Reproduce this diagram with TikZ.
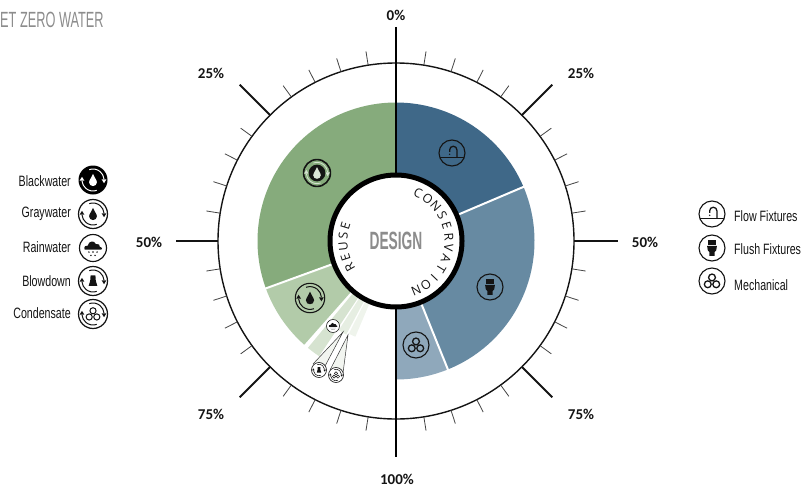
\documentclass[tikz,border=0pt]{standalone}
\usepackage{fontspec}
\setmainfont{Liberation Sans}
\newfontfamily\narrowf[FakeStretch=0.71]{Liberation Sans}
\newfontfamily\titlef[FakeStretch=0.58]{Liberation Sans}
\newfontfamily\boldnarrowf[FakeStretch=0.55]{Liberation Sans Bold}
\newfontfamily\pctf{Carlito Bold}
\newfontfamily\arcf{Open Sans}
\definecolor{bluedark}{HTML}{3F6888}
\definecolor{bluemid}{HTML}{678AA2}
\definecolor{bluelight}{HTML}{8FA8BB}
\definecolor{greendark}{HTML}{86AB7C}
\definecolor{greenlight}{HTML}{B2CBA9}
\definecolor{greenrain}{HTML}{D6E3D0}
\definecolor{greenblow}{HTML}{E6EEE2}
\definecolor{greencond}{HTML}{EFF4EC}
\definecolor{funnel}{HTML}{F2F5F0}
\definecolor{ink}{HTML}{141414}
\definecolor{titlegray}{HTML}{8C8C8C}
\tikzset{
  legendtext/.style={font=\narrowf\fontsize{15}{16}\selectfont, text=ink, inner sep=0pt},
  pct/.style={font=\pctf\fontsize{15}{16}\selectfont, text=ink, inner sep=0pt},
  arcletter/.style={font=\arcf\fontsize{12.5}{13}\selectfont, text=ink, inner sep=0pt},
  majortick/.style={line width=1.8pt, draw=ink},
  minortick/.style={line width=0.8pt, draw=ink!80},
  divider/.style={draw=white, line width=2pt},
  leader/.style={draw=ink!85, line width=0.5pt},
}
% Icon parts, drawn in unit coordinates (icon radius = 1)
\newcommand{\unitdrop}{(0,-.42) .. controls (.06,-.2) and (.27,-.02) .. (.27,.16) .. controls (.27,.5) and (-.27,.5) .. (-.27,.16) .. controls (-.27,-.02) and (-.06,-.2) .. cycle}
\newcommand{\unittower}{(-.17,-.38) -- (.17,-.38) .. controls (.17,-.1) and (.2,.12) .. (.3,.34) -- (-.3,.34) .. controls (-.2,.12) and (-.17,-.1) .. cycle}
\newcommand{\unitgears}[2]{% scale, width
  \begin{scope}[scale=#1]
  \draw[draw=ink,line width=#2] (0,-.26) circle[radius=.25];
  \draw[draw=ink,line width=#2] (-.31,.24) circle[radius=.25];
  \draw[draw=ink,line width=#2] (.31,.24) circle[radius=.25];
  \end{scope}}
% two arrow arcs of the recycling ring: colour, width
\newcommand{\unitarrows}[2]{%
  \draw[draw=#1,line width=#2] (-110:.76) arc[start angle=-110,end angle=-5,radius=.76];
  \draw[draw=#1,line width=#2] (70:.76) arc[start angle=70,end angle=175,radius=.76];
  \fill[#1] (.6,-.04) -- (.92,-.04) -- (.76,.22) -- cycle;
  \fill[#1] (-.6,.04) -- (-.92,.04) -- (-.76,-.22) -- cycle;}
\newcommand{\iconring}[4]{% x,y,r,glyph
  \begin{scope}[shift={(#1,#2)},scale=#3]
  \draw[draw=ink,fill=white,line width=#3*.085pt] (0,0) circle[radius=1];
  \unitarrows{ink}{#3*.07pt}
  #4
  \end{scope}}
\newcommand{\iconrain}[3]{%
  \begin{scope}[shift={(#1,#2)},scale=#3]
  \draw[draw=ink,fill=white,line width=#3*.085pt] (0,0) circle[radius=1];
  \fill[ink] (-.62,.12) .. controls (-.72,-.12) and (-.5,-.22) .. (-.38,-.18)
     .. controls (-.34,-.52) and (.1,-.6) .. (.2,-.3)
     .. controls (.4,-.36) and (.56,-.2) .. (.5,-.1)
     .. controls (.7,-.1) and (.72,.1) .. (.62,.12) -- cycle;
  \foreach \dx/\dy in {-.3/.3,0/.3,.3/.3,-.15/.55,.15/.55}
    \fill[ink] (\dx,\dy) circle[radius=.06];
  \end{scope}}
\newcommand{\iconflow}[3]{%
  \begin{scope}[shift={(#1,#2)},scale=#3]
  \draw[draw=ink,line width=#3*.085pt] (0,0) circle[radius=1];
  \draw[draw=ink,line width=#3*.085pt] (-.94,.36) -- (.94,.36);
  \draw[draw=ink,line width=#3*.1pt] (.38,.36) -- (.38,-.24) arc[start angle=0,end angle=-180,radius=.28] -- (-.18,-.08);
  \fill[ink] (-.18,.1) circle[radius=.06];
  \end{scope}}
\newcommand{\iconflush}[3]{%
  \begin{scope}[shift={(#1,#2)},scale=#3]
  \draw[draw=ink,line width=#3*.085pt] (0,0) circle[radius=1];
  \fill[ink] (-.34,-.62) rectangle (.34,-.24);
  \fill[ink] (-.38,-.17) -- (.38,-.17) -- (.32,.2) -- (.2,.3) -- (.2,.6) -- (-.2,.6) -- (-.2,.3) -- (-.32,.2) -- cycle;
  \end{scope}}
\newcommand{\iconmech}[3]{%
  \begin{scope}[shift={(#1,#2)},scale=#3]
  \draw[draw=ink,line width=#3*.085pt] (0,0) circle[radius=1];
  \unitgears{1.05}{#3*.1pt}
  \end{scope}}
\newcommand{\sectorfill}[5]{% colour, a1, a2, r1, r2 (angles clockwise from top)
  \fill[#1] ({396+#4*sin(#2)},{241-#4*cos(#2)}) -- ({396+#5*sin(#2)},{241-#5*cos(#2)})
     arc[start angle={#2-90},end angle={#3-90},radius=#5]
     -- ({396+#4*sin(#3)},{241-#4*cos(#3)}) -- cycle;}
\begin{document}
\begin{tikzpicture}[x=1pt,y=-1pt]
\useasboundingbox (0,0) rectangle (802,487);
\coordinate (c) at (396,241);
\sectorfill{bluedark}{0}{67}{60}{138.5}
\sectorfill{bluemid}{67}{158}{60}{138.5}
\sectorfill{bluelight}{158}{180}{60}{138.5}
\sectorfill{greendark}{250}{360}{60}{138.5}
\sectorfill{greenlight}{221.5}{250}{60}{138.5}
\sectorfill{greenrain}{213.7}{219.5}{60}{138.5}
\sectorfill{greenblow}{208}{212.7}{60}{106}
\sectorfill{greencond}{203}{207}{60}{104}
% funnels under the leaders
\fill[funnel] (343,332) -- (313,364) -- (324,368) -- cycle;
\fill[funnel] (348,335) -- (330,370) -- (343,373) -- cycle;
% dividers
\draw[divider] ({396+60*sin(67)},{241-60*cos(67)}) -- ({396+139.5*sin(67)},{241-139.5*cos(67)});
\draw[divider] ({396+60*sin(158)},{241-60*cos(158)}) -- ({396+139.5*sin(158)},{241-139.5*cos(158)});
\draw[divider] ({396+60*sin(250)},{241-60*cos(250)}) -- ({396+139.5*sin(250)},{241-139.5*cos(250)});
% outer ring
\draw[draw=ink,line width=1.4pt] (c) circle[radius=178];
% ticks
\foreach \a in {45,135,225,315}
  \draw[majortick] ({396+178*sin(\a)},{241-178*cos(\a)}) -- ({396+221*sin(\a)},{241-221*cos(\a)});
\draw[majortick] (176,241) -- (218,241);
\draw[majortick] (574,241) -- (618,241);
\foreach \q in {0,90,180,270}
  \foreach \s in {9,18,27,36,54,63,72,81}
    \draw[minortick] ({396+178*sin(\q+\s)},{241-178*cos(\q+\s)}) -- ({396+192*sin(\q+\s)},{241-192*cos(\q+\s)});
% vertical axis
\draw[draw=black,line width=2.4pt] (396,27) -- (396,457);
% centre
\draw[draw=black,fill=white,line width=5pt] (c) circle[radius=66];
\node[font=\boldnarrowf\fontsize{25}{26}\selectfont,text=titlegray,inner sep=0pt] (design) at (396,241) {DESIGN};
% arc letters
\foreach \ch [count=\i from 0] in {C,O,N,S,E,R,V,A,T,I,O,N} {
  \pgfmathsetmacro{\ang}{24.6+12.1*\i}
  \node[arcletter,rotate={-\ang}] (cons\i) at ({396+53*sin(\ang)},{241-53*cos(\ang)}) {\ch};
}
\foreach \ch [count=\i from 0] in {R,E,U,S,E} {
  \pgfmathsetmacro{\ang}{240.5+11.6*\i}
  \node[arcletter,rotate={-\ang}] (reuse\i) at ({396+53*sin(\ang)},{241-53*cos(\ang)}) {\ch};
}
% percent labels
\node[pct] (p0) at (396,15) {0\%};
\node[pct] (p25l) at (211,73) {25\%};
\node[pct] (p25r) at (581,73) {25\%};
\node[pct] (p50l) at (149,242) {50\%};
\node[pct] (p50r) at (645,242) {50\%};
\node[pct] (p75l) at (211,414) {75\%};
\node[pct] (p75r) at (581,414) {75\%};
\node[pct] (p100) at (397,479) {100\%};
% title
\node[font=\titlef\fontsize{22}{23}\selectfont,text=titlegray,anchor=west,inner sep=0pt] (title) at (0,20) {ET ZERO WATER};
% icons on the ring
\iconflow{452}{153}{13}
\iconflush{490}{287}{13}
\iconmech{416}{345}{13}
% black-water icon on dark green
\begin{scope}[shift={(317,173)},scale=14]
  \draw[draw=ink,line width=1.6pt] (0,0) circle[radius=.96];
  \unitarrows{white!65!greendark}{.8pt}
  \fill[ink] (0,0) circle[radius=.6];
  \fill[white!70!greendark] \unitdrop;
\end{scope}
% gray-water icon on light green
\begin{scope}[shift={(310,298)},scale=15]
  \draw[draw=ink,line width=1.1pt] (0,0) circle[radius=.98];
  \unitarrows{ink}{1pt}
  \fill[ink] \unitdrop;
\end{scope}
\iconrain{333}{326}{6.5}
% leaders
\coordinate (t1) at (343,332);
\coordinate (t2) at (348,335);
\coordinate (b1) at (313,364);
\coordinate (b2) at (324,368);
\coordinate (b3) at (330,370);
\coordinate (b4) at (343,373);
\draw[leader] (b1) -- (t1) -- (b2);
\draw[leader] (b3) -- (t2) -- (b4);
\iconring{319}{370}{7.5}{\fill[ink] \unittower;}
\iconring{336}{375}{7.5}{\unitgears{.85}{.5pt}}
% left legend
\node[legendtext,anchor=east] (lblack) at (71,181) {Blackwater};
\node[legendtext,anchor=east] (lgray) at (71,214) {Graywater};
\node[legendtext,anchor=east] (lrain) at (71,247) {Rainwater};
\node[legendtext,anchor=east] (lblow) at (71,281) {Blowdown};
\node[legendtext,anchor=east] (lcond) at (71,313) {Condensate};
\begin{scope}[shift={(93,180)},scale=14.5]
  \fill[black] (0,0) circle[radius=1];
  \unitarrows{white}{1pt}
  \fill[white] \unitdrop;
\end{scope}
\iconring{93}{214}{14.5}{\fill[ink] \unitdrop;}
\iconrain{93}{248}{13.5}
\iconring{93}{281}{14.5}{\fill[ink] \unittower;}
\iconring{93}{314}{14.5}{\unitgears{.85}{1pt}}
% right legend
\iconflow{712}{214}{13}
\iconflush{712}{248}{13}
\iconmech{712}{281}{13}
\node[legendtext,anchor=west] (rflow) at (734,216) {Flow Fixtures};
\node[legendtext,anchor=west] (rflush) at (734,249) {Flush Fixtures};
\node[legendtext,anchor=west] (rmech) at (734,285) {Mechanical};
\end{tikzpicture}
\end{document}
